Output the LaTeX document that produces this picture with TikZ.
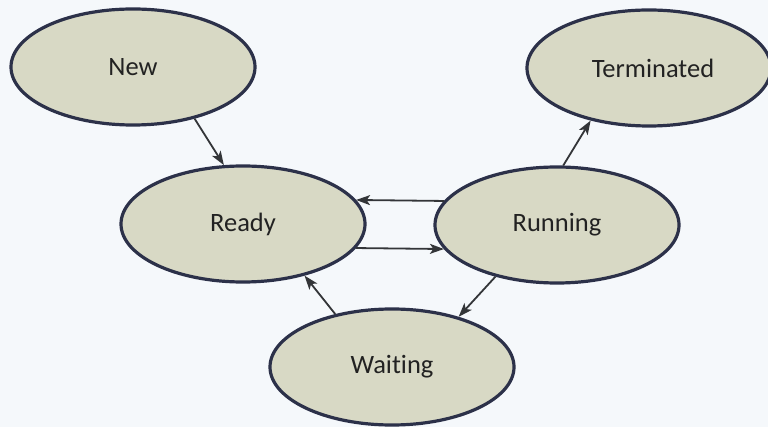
\documentclass[tikz,border=0pt]{standalone}
\usepackage{fontspec}
\setmainfont{Carlito}[Ligatures={NoCommon}]
\usetikzlibrary{shapes.geometric,arrows.meta}
\definecolor{pagebg}{HTML}{F5F8FB}
\definecolor{statefill}{HTML}{D8D9C5}
\definecolor{stateline}{HTML}{2C3149}
\definecolor{arrowcol}{HTML}{333538}
\definecolor{textcol}{HTML}{222222}
\tikzset{
  state/.style={ellipse, draw=stateline, fill=statefill, line width=3.2pt,
    minimum width=244pt, minimum height=116pt, inner sep=0pt,
    font=\fontsize{26.5}{30}\selectfont, text=textcol},
  trans/.style={draw=arrowcol, line width=1.8pt,
    -{Stealth[length=14pt,width=10pt,inset=3.5pt]}}
}
\begin{document}
\begin{tikzpicture}[x=1pt,y=-1pt]
  % page background
  \fill[pagebg] (0,0) rectangle (768,427);
  \useasboundingbox (0,0) rectangle (768,427);

  % process states
  \node[state] (new)  at (133,67)  {New};
  \node[state] (term) at (649,68)  {\hspace{8pt}Terminated};
  \node[state] (ready) at (243,224) {Ready};
  \node[state] (run)  at (557,225) {Running};
  \node[state] (wait) at (392,367) {Waiting};

  % transitions
  \draw[trans] (new.-40) -- (ready.108);
  \draw[trans] (run.84) -- (term.-138);
  \draw[trans] (run.168) -- (ready.12);
  \draw[trans] (ready.-12) -- (run.-168);
  \draw[trans] (run.-140) -- (wait.37);
  \draw[trans] (wait.137) -- (ready.-40);
\end{tikzpicture}
\end{document}
